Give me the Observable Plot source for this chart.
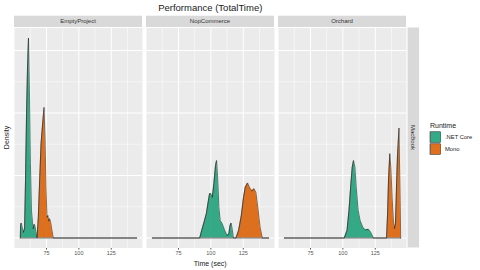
<!DOCTYPE html>
<html>
<head>
<meta charset="utf-8">
<script src="https://cdn.jsdelivr.net/npm/d3@7"></script>
<script src="https://cdn.jsdelivr.net/npm/@observablehq/plot@0.6"></script>
<style>
  html, body { margin: 0; padding: 0; background: white; }
  #chart svg { display: block; }
</style>
</head>
<body>
<div id="chart"></div>
<script>
// ---- data ----
const projects = ["EmptyProject", "NopCommerce", "Orchard"];
const runtimes = [".NET Core", "Mono"];
const facetRow = "MacBook";
const xTicks = [75, 100, 125];
const xMinor = [62.5, 87.5, 112.5, 137.5];
const yMajor = [0, 0.1, 0.2, 0.3];
const yMinor = [0.05, 0.15, 0.25];
const timeRange = [54.8, 144.6];

const emptyCoreTime = [55.0, 55.5, 56.3, 57.1, 58.1, 58.8, 59.6, 60.3, 61.1, 61.9, 62.6, 63.4, 64.2, 64.7, 65.5, 66.2, 67.0, 67.7];
const emptyCoreDens = [0.020, 0.024, 0.017, 0.009, 0.015, 0.092, 0.199, 0.268, 0.320, 0.225, 0.119, 0.044, 0.025, 0.015, 0.022, 0.018, 0.008, 0];
const emptyMonoTime = [67.7, 68.7, 69.8, 70.8, 71.8, 73.1, 73.9, 74.6, 75.4, 76.1, 76.7, 77.4, 78.2, 79.0, 80.2];
const emptyMonoDens = [0, 0.033, 0.097, 0.151, 0.177, 0.209, 0.156, 0.081, 0.033, 0.036, 0.027, 0.031, 0.025, 0.015, 0];

const nopCoreTime = [91.4, 92.9, 94.7, 96.5, 98.1, 99.0, 100.0, 101.1, 102.3, 103.6, 104.4, 105.2, 106.2, 107.2, 108.7, 110.7, 112.5, 113.8, 114.8, 115.6, 116.4, 117.4];
const nopCoreDens = [0, 0.012, 0.025, 0.039, 0.060, 0.071, 0.071, 0.065, 0.087, 0.116, 0.124, 0.097, 0.049, 0.028, 0.023, 0.012, 0.004, 0.006, 0.020, 0.024, 0.015, 0];
const nopMonoTime = [119.4, 121.4, 123.5, 125.2, 126.5, 128.3, 129.8, 131.6, 133.2, 134.7, 136.2, 138.0, 139.7];
const nopMonoDens = [0, 0.012, 0.036, 0.065, 0.081, 0.088, 0.081, 0.075, 0.079, 0.073, 0.049, 0.017, 0];

const orchCoreTime = [101.1, 103.2, 104.7, 106.2, 107.2, 108.2, 109.3, 110.3, 111.8, 113.3, 115.4, 117.4, 119.7, 121.5, 123.5];
const orchCoreDens = [0, 0.012, 0.044, 0.087, 0.113, 0.124, 0.113, 0.081, 0.044, 0.028, 0.017, 0.013, 0.014, 0.009, 0];
const orchMonoTime = [133.7, 134.5, 135.2, 136.2, 137.0, 138.0, 139.0, 139.8, 140.6, 141.3, 142.1, 143.3, 144.2, 144.6];
const orchMonoDens = [0, 0.039, 0.092, 0.135, 0.113, 0.065, 0.028, 0.015, 0.023, 0.076, 0.129, 0.176, 0.060, 0];

const colors = ["#1B9E77", "#D95F02"];

// ---- build table ----
const series = [
  [projects[0], runtimes[0], emptyCoreTime, emptyCoreDens],
  [projects[0], runtimes[1], emptyMonoTime, emptyMonoDens],
  [projects[1], runtimes[0], nopCoreTime, nopCoreDens],
  [projects[1], runtimes[1], nopMonoTime, nopMonoDens],
  [projects[2], runtimes[0], orchCoreTime, orchCoreDens],
  [projects[2], runtimes[1], orchMonoTime, orchMonoDens]
];
const rows = [];
for (const [project, runtime, ts, ds] of series) {
  const pts = ts.map((t, i) => ({project, runtime, time: t, density: ds[i]}));
  if (pts[0].time > timeRange[0]) pts.unshift({project, runtime, time: timeRange[0], density: 0});
  if (pts[pts.length - 1].time < timeRange[1]) pts.push({project, runtime, time: timeRange[1], density: 0});
  rows.push(...pts);
}

const W = 480, H = 270;
const mL = 14, mR = 73.5, mT = 27.5, mB = 22.5;
const fxPadding = 0.0325;
const font = "'Liberation Sans', Arial, sans-serif";

const chart = Plot.plot({
  width: W, height: H,
  marginLeft: mL, marginRight: mR, marginTop: mT, marginBottom: mB,
  style: {background: "white", fontFamily: font, fontSize: "5.5px", color: "#555555", overflow: "visible"},
  facet: {data: rows, x: "project", marginTop: mT, marginBottom: mB, marginLeft: mL, marginRight: mR},
  fx: {domain: projects, padding: fxPadding, axis: null},
  x: {domain: [50.3, 149.1], ticks: xTicks, tickSize: 2, tickPadding: 1.5, label: null, tickFormat: d => String(d)},
  y: {domain: [-0.016, 0.336], axis: null},
  color: {domain: runtimes, range: colors},
  marks: [
    Plot.frame({fill: "#EBEBEB", stroke: "none"}),
    Plot.ruleX(xMinor, {x: d => d, stroke: "white", strokeWidth: 0.5}),
    Plot.ruleY(yMinor, {y: d => d, stroke: "white", strokeWidth: 0.5}),
    Plot.ruleX(xTicks, {x: d => d, stroke: "white", strokeWidth: 1}),
    Plot.ruleY(yMajor, {y: d => d, stroke: "white", strokeWidth: 1}),
    Plot.areaY(rows, {x: "time", y: "density", z: "runtime", fill: "runtime", fillOpacity: 0.88, curve: "linear"}),
    Plot.lineY(rows, {x: "time", y: "density", z: "runtime", stroke: "#1a1a1a", strokeWidth: 0.6, curve: "linear"})
  ]
});
document.getElementById("chart").appendChild(chart);

// ---- decorations using Plot's own scales ----
const svg = d3.select(chart);
let fxScale = null;
try { fxScale = chart.scale("fx"); } catch (e) {}
const band = d3.scaleBand().domain(projects).range([mL, W - mR]).paddingInner(fxPadding).paddingOuter(0).align(0.5);
const fxPos = p => (fxScale && fxScale.apply) ? fxScale.apply(p) : band(p);
const bw = (fxScale && fxScale.bandwidth) ? fxScale.bandwidth : band.bandwidth();
const colorScale = chart.scale("color");
const colorOf = r => (colorScale && colorScale.apply) ? colorScale.apply(r) : colors[runtimes.indexOf(r)];

const deco = svg.append("g").attr("font-family", font).attr("font-weight", "normal");
// strips (top)
for (const p of projects) {
  const x0 = fxPos(p);
  deco.append("rect").attr("x", x0).attr("y", mT - 11.8).attr("width", bw).attr("height", 11.3).attr("fill", "#D9D9D9");
  deco.append("text").attr("x", x0 + bw / 2).attr("y", mT - 6.1).attr("text-anchor", "middle")
    .attr("dominant-baseline", "central").attr("font-size", 6).attr("fill", "#333").text(p);
}
// strip (right)
const rightX = W - mR + 1.1;
deco.append("rect").attr("x", rightX).attr("y", mT).attr("width", 11.5).attr("height", H - mT - mB).attr("fill", "#D9D9D9");
deco.append("text").attr("transform", `translate(${rightX + 5.75},${(mT + H - mB) / 2}) rotate(90)`)
  .attr("text-anchor", "middle").attr("dominant-baseline", "central").attr("font-size", 6).attr("fill", "#333").text(facetRow);

// title and axis titles
const centerX = (mL + W - mR) / 2;
deco.append("text").attr("x", centerX).attr("y", 7.2).attr("text-anchor", "middle").attr("dominant-baseline", "central")
  .attr("font-size", 9.5).attr("fill", "#1a1a1a").text("Performance (TotalTime)");
deco.append("text").attr("x", centerX).attr("y", 263.3).attr("text-anchor", "middle").attr("dominant-baseline", "central")
  .attr("font-size", 7).attr("fill", "#222").text("Time (sec)");
deco.append("text").attr("transform", `translate(6.6,${(mT + H - mB) / 2}) rotate(-90)`)
  .attr("text-anchor", "middle").attr("dominant-baseline", "central").attr("font-size", 7).attr("fill", "#222").text("Density");

// legend
deco.append("text").attr("x", 430).attr("y", 125.2).attr("text-anchor", "start").attr("dominant-baseline", "central")
  .attr("font-size", 7).attr("fill", "#222").text("Runtime");
runtimes.forEach((r, i) => {
  const y0 = 131.3 + i * 12;
  deco.append("rect").attr("x", 429.5).attr("y", y0).attr("width", 11.5).attr("height", 11.5).attr("fill", "#F2F2F2");
  deco.append("rect").attr("x", 430).attr("y", y0 + 0.5).attr("width", 10.5).attr("height", 10.5)
    .attr("fill", colorOf(r)).attr("fill-opacity", 0.88).attr("stroke", "#1a1a1a").attr("stroke-width", 0.5);
  deco.append("text").attr("x", 445).attr("y", y0 + 5.8).attr("text-anchor", "start").attr("dominant-baseline", "central")
    .attr("font-size", 5.8).attr("fill", "#222").text(r);
});
</script>
</body>
</html>
